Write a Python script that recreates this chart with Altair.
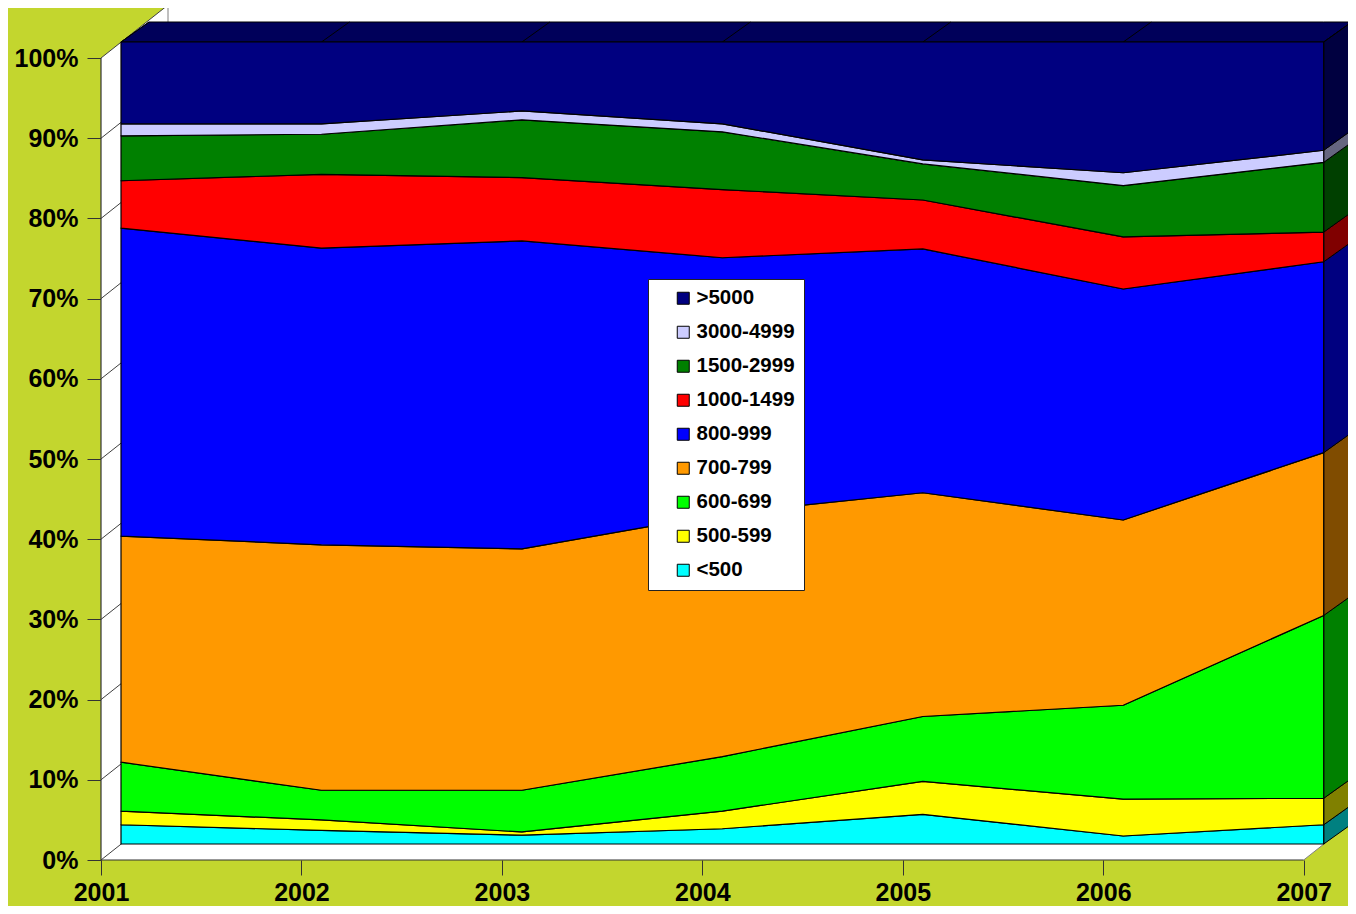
import altair as alt
import pandas as pd

# ---------------- data (percent shares) ----------------
years = [2001, 2002, 2003, 2004, 2005, 2006, 2007]
categories = ["<500", "500-599", "600-699", "700-799", "800-999",
              "1000-1499", "1500-2999", "3000-4999", ">5000"]          # bottom -> top
share_lt500     = [2.4, 1.7, 1.1, 1.9, 3.7, 1.0, 2.4]
share_500_599   = [1.7, 1.3, 0.4, 2.2, 4.1, 4.6, 3.3]
share_600_699   = [6.1, 3.7, 5.2, 6.8, 8.1, 11.7, 22.8]
share_700_799   = [28.2, 30.6, 30.1, 30.3, 27.9, 23.1, 20.3]
share_800_999   = [38.4, 37.0, 38.4, 31.9, 30.4, 28.8, 23.8]
share_1000_1499 = [5.9, 9.2, 7.9, 8.5, 6.1, 6.5, 3.7]
share_1500_2999 = [5.6, 5.0, 7.2, 7.2, 4.5, 6.4, 8.7]
share_3000_4999 = [1.5, 1.3, 1.1, 1.0, 0.5, 1.6, 1.5]
share_gt5000    = [10.2, 10.2, 8.6, 10.2, 14.7, 16.3, 13.5]
series = [share_lt500, share_500_599, share_600_699, share_700_799, share_800_999,
          share_1000_1499, share_1500_2999, share_3000_4999, share_gt5000]

front_colors = ["#00FFFF", "#FFFF00", "#00FF00", "#FF9900", "#0000FF",
                "#FF0000", "#008000", "#CCCCFF", "#000080"]
side_colors = ["#008080", "#808000", "#008000", "#804C00", "#000080",
               "#800000", "#004000", "#666680", "#000040"]
top_color = "#00005A"
ytick_values = [0.0, 0.1, 0.2, 0.3, 0.4, 0.5, 0.6, 0.7, 0.8, 0.9, 1.0]

# ---------------- geometry of the pseudo 3D box ----------------
BG = "#C3D62E"
FONT = "Liberation Sans"
PX_PER_YEAR = 200.45
PX_PER_UNIT = 802.0
VIEW_W, VIEW_H = 1247, 852
XMAX = years[0] + VIEW_W / PX_PER_YEAR
YMAX = VIEW_H / PX_PER_UNIT
FX, FY = 20 / PX_PER_YEAR, 16 / PX_PER_UNIT   # series front face vs axis plane
DX, DY = 28 / PX_PER_YEAR, 20 / PX_PER_UNIT   # depth of the series
WX, WY = 67 / PX_PER_YEAR, 53 / PX_PER_UNIT   # depth of the walls
x0, x1 = years[0], years[-1]

# ---------------- tables built from the arrays ----------------
front_rows, last = [], {}
for i, yr in enumerate(years):
    total = sum(s[i] for s in series)
    cum = 0.0
    for cat, s in zip(categories, series):
        lo = cum / total
        cum += s[i]
        hi = cum / total
        front_rows.append(dict(cat=cat, x=yr + FX, lo=lo + FY, hi=hi + FY))
        if yr == x1:
            last[cat] = (lo + FY, hi + FY)
front_df = pd.DataFrame(front_rows)

side_rows = []
for cat, col in zip(categories, side_colors):
    lo, hi = last[cat]
    side_rows.append(dict(cat=cat, fill=col, x=x1 + FX, lo=lo, hi=hi))
    side_rows.append(dict(cat=cat, fill=col, x=x1 + FX + DX, lo=lo + DY, hi=hi + DY))
side_df = pd.DataFrame(side_rows)

top_df = pd.DataFrame([
    dict(x=x0 + FX, lo=1 + FY, hi=1 + FY),
    dict(x=x0 + FX + DX, lo=1 + FY, hi=1 + FY + DY),
    dict(x=x1 + FX, lo=1 + FY, hi=1 + FY + DY),
    dict(x=x1 + FX + DX, lo=1 + FY + DY, hi=1 + FY + DY),
])

wall_df = pd.DataFrame([
    dict(x=x0, lo=0, hi=1),
    dict(x=x0 + WX, lo=0, hi=1 + WY),
    dict(x=x1, lo=0, hi=1 + WY),
    dict(x=x1 + WX, lo=WY, hi=1 + WY),
])

grid_rows = []
for t in ytick_values:
    grid_rows.append(dict(x=x0, y=t, x2=x0 + WX, y2=t + WY))
    grid_rows.append(dict(x=x0 + WX, y=t + WY, x2=x1 + WX, y2=t + WY))
grid_df = pd.DataFrame(grid_rows)

edge_df = pd.DataFrame([
    dict(x=x0 + WX, y=WY, x2=x0 + WX, y2=1 + WY),
    dict(x=x1, y=0, x2=x1 + WX, y2=WY),
])
axisline_df = pd.DataFrame([
    dict(x=x0, y=0, x2=x0, y2=1),
    dict(x=x0, y=0, x2=x1, y2=0),
])
divider_df = pd.DataFrame([dict(x=yr + FX, y=1 + FY, x2=yr + FX + DX, y2=1 + FY + DY)
                           for yr in years])

# ---------------- scales / axes ----------------
xscale = alt.Scale(domain=[x0, XMAX], nice=False, zero=False)
yscale = alt.Scale(domain=[0, YMAX], nice=False, zero=False)

xaxis = alt.Axis(values=years, format="d", title=None, domain=False, grid=False,
                 tickSize=15, tickColor="#333333", tickWidth=1,
                 labelFont=FONT, labelFontSize=25, labelFontWeight="bold",
                 labelColor="black", labelBaseline="alphabetic", labelPadding=25,
                 labelAlign="center", labelFlush=False, labelOverlap=False)
yaxis = alt.Axis(values=ytick_values, format=".0%", title=None, domain=False, grid=False,
                 tickSize=14, tickColor="#333333", tickWidth=1,
                 labelFont=FONT, labelFontSize=25, labelFontWeight="bold",
                 labelColor="black", labelPadding=9, labelBaseline="middle",
                 labelFlush=False, labelOverlap=False)


def X(field):
    return alt.X(f"{field}:Q", scale=xscale, axis=xaxis, title=None)


def Y(field):
    return alt.Y(f"{field}:Q", scale=yscale, axis=yaxis, title=None, stack=None)


def rules(df, color, width):
    return alt.Chart(df).mark_rule(color=color, strokeWidth=width).encode(
        x=X("x"), y=Y("y"), x2="x2:Q", y2="y2:Q")


wall = alt.Chart(wall_df).mark_area(fill="white", opacity=1).encode(
    x=X("x"), y=Y("lo"), y2="hi:Q")

grid = rules(grid_df, "#404040", 1)
edges = rules(edge_df, "#808080", 1)
axislines = rules(axisline_df, "#333333", 1.2)

top_face = alt.Chart(top_df).mark_area(fill=top_color, opacity=1, stroke="black",
                                       strokeWidth=1).encode(
    x=X("x"), y=Y("lo"), y2="hi:Q")

sides = alt.Chart(side_df).mark_area(opacity=1, stroke="black", strokeWidth=1).encode(
    x=X("x"), y=Y("lo"), y2="hi:Q",
    fill=alt.Fill("fill:N", scale=None),
    detail="cat:N")

dividers = rules(divider_df, "black", 1)

legend_order = categories[::-1]
legend_colors = front_colors[::-1]

front = alt.Chart(front_df).mark_area(opacity=1, fillOpacity=1, stroke="black",
                                      strokeWidth=1.2, strokeJoin="round").encode(
    x=X("x"), y=Y("lo"), y2="hi:Q",
    color=alt.Color("cat:N", scale=alt.Scale(domain=legend_order, range=legend_colors),
                    legend=alt.Legend(
                        orient="none", legendX=547, legendY=271, title=None,
                        fillColor="white", strokeColor="#222222", padding=9,
                        rowPadding=13, symbolType="square", symbolSize=144,
                        symbolStrokeColor="black", symbolStrokeWidth=1,
                        symbolOffset=16, labelOffset=3,
                        labelExpr="datum.label + '\u00a0\u00a0'",
                        labelFont=FONT, labelFontSize=20.5, labelFontWeight="bold",
                        labelColor="black")),
)

chart = alt.layer(wall, grid, edges, top_face, sides, dividers, front, axislines).properties(
    width=VIEW_W, height=VIEW_H,
    padding={"left": 93, "top": 0, "right": 0, "bottom": 46},
    autosize=alt.AutoSizeParams(type="none"),
    background=BG,
).configure_view(stroke=None)

chart.save("out.html", embed_options={"renderer": "svg", "actions": False})
